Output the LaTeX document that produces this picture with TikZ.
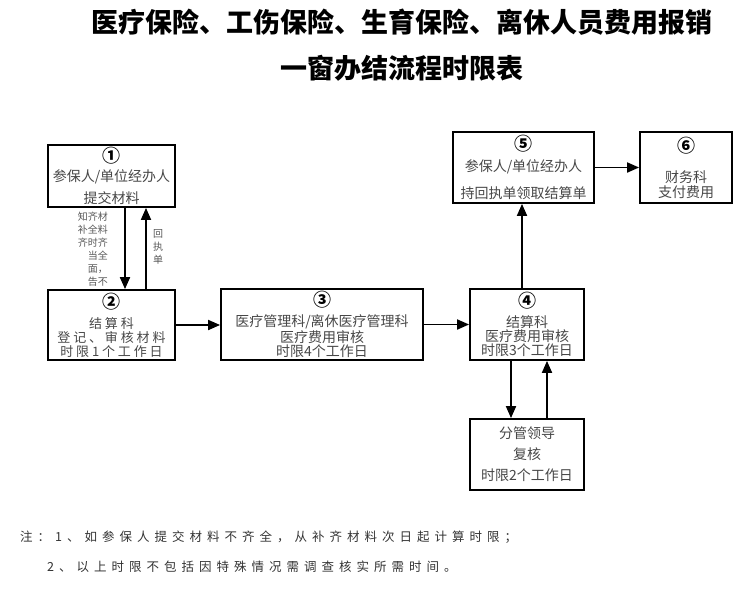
\documentclass[tikz,border=0pt]{standalone}
\usepackage{fontspec}
\setmainfont{Noto Sans CJK SC}
\newfontfamily\widecjk{Noto Sans CJK SC}[LetterSpace=22]
\newfontfamily\notecjk{Noto Sans CJK SC}[LetterSpace=40]
\usepackage{tikz}
\usetikzlibrary{arrows.meta}

\newcommand{\stepno}[1]{{\fontsize{18}{14}\selectfont\bfseries\color{black}#1}}

\tikzset{
  stepbox/.style={draw, line width=1.8pt, align=center, inner sep=0pt,
    text=black!72, font=\fontsize{14}{14}\selectfont},
  flow/.style={line width=1.8pt, -{Triangle[length=12pt,width=10pt]}},
  sidenote/.style={inner sep=0pt, text=black!65,
    font=\fontsize{10}{13}\selectfont},
}

\begin{document}
\begin{tikzpicture}[x=1pt, y=1pt]
  \useasboundingbox (0,0) rectangle (753,-590);

  % ── Title ──────────────────────────────────────────────
  \node[font=\fontsize{27}{30}\selectfont\bfseries] (title) at (402,-22)
    {医疗保险、工伤保险、生育保险、离休人员费用报销};
  \node[font=\fontsize{27}{30}\selectfont\bfseries] (subtitle) at (402,-68)
    {一窗办结流程时限表};

  % ── Steps ──────────────────────────────────────────────
  \node[stepbox, minimum width=127pt, minimum height=62pt] (submit)
    at (111.5,-176) {\stepno{①}\\[5pt]参保人/单位经办人\\[6pt]提交材料};
  \node[stepbox, minimum width=127pt, minimum height=70pt,
        font=\widecjk\fontsize{13}{14}\selectfont] (register)
    at (111.5,-325) {\stepno{②}\\[6pt]结算科\\登记、审核材料\\时限1个工作日};
  \node[stepbox, minimum width=202pt, minimum height=71pt] (review)
    at (322,-324.5) {\stepno{③}\\[6pt]医疗管理科/离休医疗管理科\\医疗费用审核\\时限4个工作日};
  \node[stepbox, minimum width=114pt, minimum height=71pt] (settle)
    at (527,-324.5) {\stepno{④}\\[6pt]结算科\\医疗费用审核\\时限3个工作日};
  \node[stepbox, minimum width=114pt, minimum height=71pt] (leader)
    at (527,-454.5) {分管领导\\[7pt]复核\\[7pt]时限2个工作日};
  \node[stepbox, minimum width=141pt, minimum height=71pt] (collect)
    at (523.5,-167.5) {\stepno{⑤}\\[7pt]参保人/单位经办人\\[11pt]持回执单领取结算单};
  \node[stepbox, minimum width=92pt, minimum height=71pt] (finance)
    at (686,-167.5) {\stepno{⑥}\\[16pt]财务科\\[1pt]支付费用};

  % ── Side labels ────────────────────────────────────────
  \node[sidenote, align=right, anchor=north east] (missing) at (108,-212)
    {知齐材\\补全料\\齐时齐\\当全\\面，\\告不};
  \node[sidenote, align=center] (receipt) at (158,-247) {回\\执\\单};

  % ── Flow ───────────────────────────────────────────────
  \draw[flow] ([xshift=13.5pt]submit.south) -- ([xshift=13.5pt]register.north);
  \draw[flow] ([xshift=34.5pt]register.north) -- ([xshift=34.5pt]submit.south);
  \draw[flow] (register.east) -- (register.east -| review.west);
  \draw[flow] (review.east) -- (review.east -| settle.west);
  \draw[flow] ([xshift=-16pt]settle.south) -- ([xshift=-16pt]leader.north);
  \draw[flow] ([xshift=20pt]leader.north) -- ([xshift=20pt]settle.south);
  \draw[flow] ([xshift=-5pt]settle.north) -- ([xshift=-5pt]settle.north |- collect.south);
  \draw[flow] (collect.east) -- (collect.east -| finance.west);

  % ── Notes ──────────────────────────────────────────────
  \node[anchor=base west, inner sep=0pt, text=black!80,
        font=\notecjk\fontsize{12.5}{14}\selectfont] (note1) at (20,-541)
    {注：1、如参保人提交材料不齐全，从补齐材料次日起计算时限；};
  \node[anchor=base west, inner sep=0pt, text=black!80,
        font=\notecjk\fontsize{12.5}{14}\selectfont] (note2) at (47,-571)
    {2、以上时限不包括因特殊情况需调查核实所需时间。};
\end{tikzpicture}
\end{document}
